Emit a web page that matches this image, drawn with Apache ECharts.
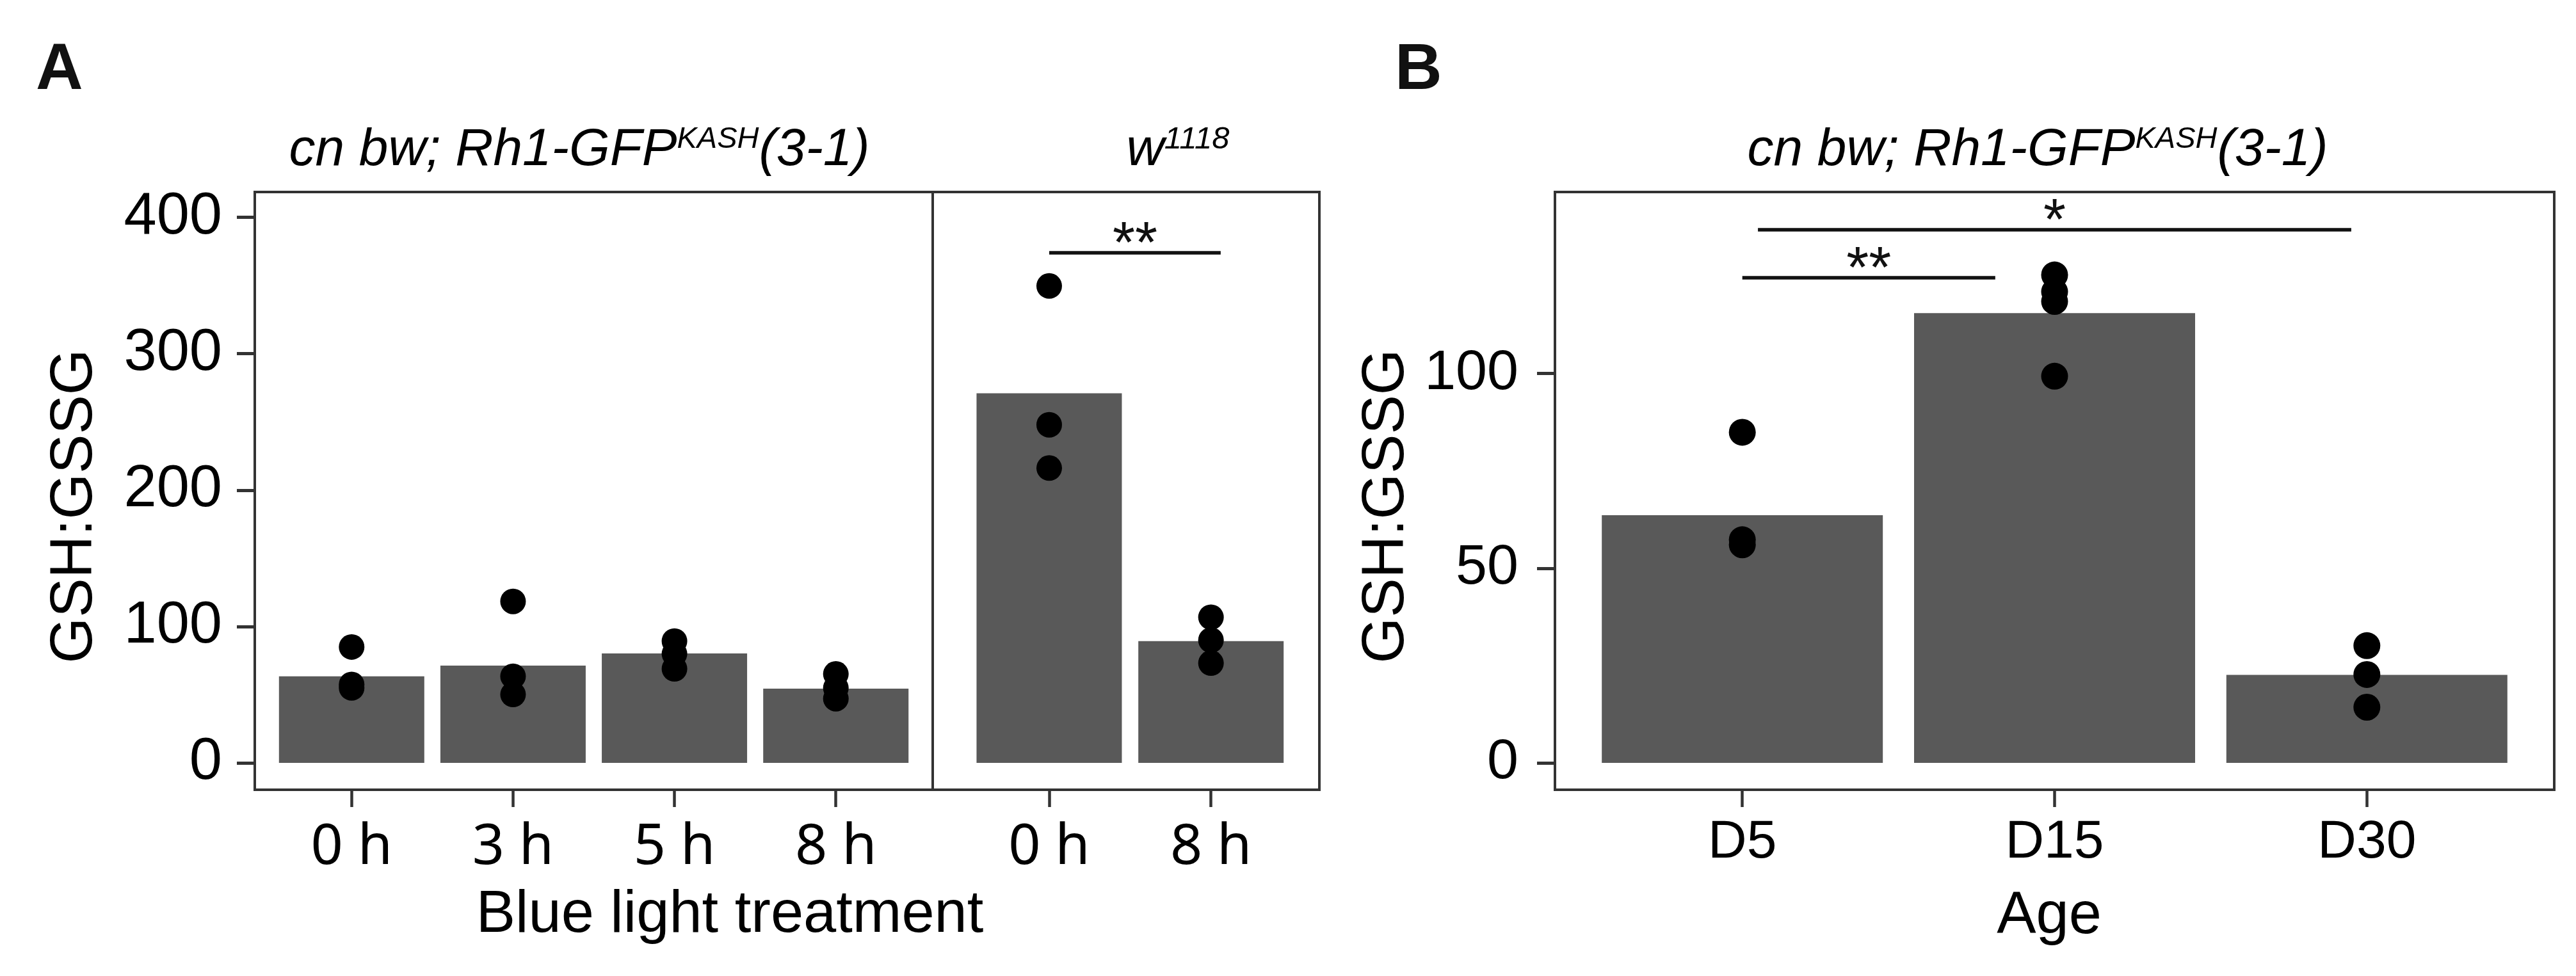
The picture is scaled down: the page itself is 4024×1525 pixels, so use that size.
<!DOCTYPE html>
<html>
<head>
<meta charset="utf-8">
<script src="https://cdn.jsdelivr.net/npm/echarts@6/dist/echarts.min.js"></script>
<style>
html,body{margin:0;padding:0;background:#ffffff;}
#chart{width:4024px;height:1525px;}
</style>
</head>
<body>
<div id="chart"></div>
<script>
// ---------------- data ----------------
const treatLabels = ['0 h', '3 h', '5 h', '8 h'];
const treatMeans = [63.5, 71.3, 80.2, 54.4];
const treatPoints = [[85.0, 57.5, 55.0], [118.4, 63.5, 50.2], [89.3, 80.0, 69.0], [65.2, 55.0, 47.1]];

const wLabels = ['0 h', '8 h'];
const wMeans = [271.0, 89.3];
const wPoints = [[349.7, 247.9, 216.2], [106.8, 90.0, 73.2]];

const ageLabels = ['D5', 'D15', 'D30'];
const ageMeans = [63.6, 115.5, 22.6];
const agePoints = [[84.9, 57.3, 56.0], [125.3, 121.0, 118.5, 99.3], [30.1, 22.7, 14.3]];

const yTicksA = [0, 100, 200, 300, 400];
const yTicksB = [0, 50, 100];

// significance brackets: [from position, to position, height, label]
const sigA = [[0, 1.06, 374.3, '**']];
const sigB = [[0.05, 1.95, 137.0, '*'], [0, 0.81, 124.7, '**']];

// ---------------- helpers ----------------
const SANS = "'Liberation Sans', Arial, Helvetica, sans-serif";
const W = 4024, H = 1525;
const idx = arr => arr.map((_, i) => i);
const barData = means => means.map((v, i) => [i, v]);
const pointData = groups => { const out = []; groups.forEach((g, i) => g.forEach(v => out.push([i, v]))); return out; };
const sigLines = list => list.map(s => [{ name: s[3], coord: [s[0], s[2]] }, { coord: [s[1], s[2]] }]);

const frame = { show: true, borderColor: '#333333', borderWidth: 4, backgroundColor: 'transparent', outerBoundsMode: 'none' };
const tickStyle = { color: '#333333', width: 4.5 };

function xAxisFor(grid, labels, min, max, font, size, margin) {
  return {
    gridIndex: grid, type: 'value', min: min, max: max, position: 'bottom',
    splitLine: { show: false }, axisLine: { show: false, onZero: false },
    axisTick: { show: true, length: 27, lineStyle: tickStyle, customValues: idx(labels) },
    axisLabel: { show: true, customValues: idx(labels), formatter: v => labels[Math.round(v)],
      margin: margin, fontFamily: font, fontSize: size, color: '#000' }
  };
}
function yAxisFor(grid, min, max, ticks, size, margin) {
  if (!ticks) {
    return { gridIndex: grid, type: 'value', min: min, max: max, splitLine: { show: false },
      axisLine: { show: false, onZero: false }, axisTick: { show: false }, axisLabel: { show: false } };
  }
  return {
    gridIndex: grid, type: 'value', min: min, max: max, position: 'left',
    splitLine: { show: false }, axisLine: { show: false, onZero: false },
    axisTick: { show: true, length: 28, lineStyle: { color: '#333333', width: 5 }, customValues: ticks },
    axisLabel: { show: true, customValues: ticks, margin: margin, fontFamily: SANS, fontSize: size, color: '#000' }
  };
}
const markLineStyle = list => ({
  silent: true, animation: false, symbol: ['none', 'none'],
  lineStyle: { color: '#111111', width: 5.5, type: 'solid' },
  label: { show: true, position: 'middle', formatter: '{b}', distance: -36, fontSize: 90, fontFamily: SANS, color: '#111111' },
  emphasis: { disabled: true },
  data: sigLines(list)
});
function txt(x, y, text, opts) {
  const st = Object.assign({ text: text, fill: '#000', align: 'center', textAlign: 'center',
    verticalAlign: 'middle', textVerticalAlign: 'middle', fontFamily: SANS, fontSize: 92 }, opts.style || {});
  return { type: 'text', x: x, y: y, rotation: opts.rotation || 0, silent: true, style: st };
}
const stripRich = {
  i: { fontSize: 82, fontStyle: 'italic', fontFamily: SANS, lineHeight: 82, fill: '#000' },
  s: { fontSize: 47, fontStyle: 'italic', fontFamily: SANS, lineHeight: 47, verticalAlign: 'top', fill: '#000' }
};

const option = {
  animation: false,
  backgroundColor: '#ffffff',
  grid: [
    Object.assign({ left: 398, right: W - 1457, top: 300, bottom: H - 1234 }, frame),
    Object.assign({ left: 1457, right: W - 2061, top: 300, bottom: H - 1234 }, frame),
    Object.assign({ left: 2429, right: W - 3990, top: 300, bottom: H - 1234 }, frame)
  ],
  xAxis: [
    xAxisFor(0, treatLabels, -0.6, 3.6, "'Noto Sans', 'Open Sans', sans-serif", 88, 47),
    xAxisFor(1, wLabels, -0.72, 1.67, "'Noto Sans', 'Open Sans', sans-serif", 88, 47),
    xAxisFor(2, ageLabels, -0.6, 2.6, SANS, 84, 41)
  ],
  yAxis: [
    yAxisFor(0, -19.7, 418.6, yTicksA, 92, 51),
    yAxisFor(1, -19.7, 418.6, null),
    yAxisFor(2, -6.9, 146.6, yTicksB, 88, 57)
  ],
  series: [
    { type: 'bar', xAxisIndex: 0, yAxisIndex: 0, data: barData(treatMeans), barWidth: 227,
      itemStyle: { color: '#595959' }, silent: true },
    { type: 'scatter', xAxisIndex: 0, yAxisIndex: 0, data: pointData(treatPoints), symbolSize: 40,
      itemStyle: { color: '#000000', opacity: 1 }, silent: true },
    { type: 'bar', xAxisIndex: 1, yAxisIndex: 1, data: barData(wMeans), barWidth: 227,
      itemStyle: { color: '#595959' }, silent: true, markLine: markLineStyle(sigA) },
    { type: 'scatter', xAxisIndex: 1, yAxisIndex: 1, data: pointData(wPoints), symbolSize: 40,
      itemStyle: { color: '#000000', opacity: 1 }, silent: true },
    { type: 'bar', xAxisIndex: 2, yAxisIndex: 2, data: barData(ageMeans), barWidth: 439,
      itemStyle: { color: '#595959' }, silent: true, markLine: markLineStyle(sigB) },
    { type: 'scatter', xAxisIndex: 2, yAxisIndex: 2, data: pointData(agePoints), symbolSize: 42,
      itemStyle: { color: '#000000', opacity: 1 }, silent: true }
  ],
  graphic: [
    txt(56, 111, 'A', { style: { align: 'left', textAlign: 'left', fontWeight: 'bold', fontSize: 102, fill: '#111' } }),
    txt(2179, 111, 'B', { style: { align: 'left', textAlign: 'left', fontWeight: 'bold', fontSize: 102, fill: '#111' } }),
    txt(905, 235, '{i|cn bw; Rh1-GFP}{s|KASH}{i|(3-1)}', { style: { rich: stripRich } }),
    txt(1840, 235, '{i|w}{s|1118}', { style: { rich: { i: stripRich.i, s: Object.assign({}, stripRich.s, { fontSize: 49, lineHeight: 49 }) } } }),
    txt(3183, 235, '{i|cn bw; Rh1-GFP}{s|KASH}{i|(3-1)}', { style: { rich: stripRich } }),
    txt(118, 791, 'GSH:GSSG', { rotation: Math.PI / 2 }),
    txt(2167, 791, 'GSH:GSSG', { rotation: Math.PI / 2 }),
    txt(1140, 1431, 'Blue light treatment', {}),
    txt(3201, 1433, 'Age', {})
  ]
};

const chart = echarts.init(document.getElementById('chart'), null, { renderer: 'canvas', width: W, height: H });
chart.setOption(option);
</script>
</body>
</html>
